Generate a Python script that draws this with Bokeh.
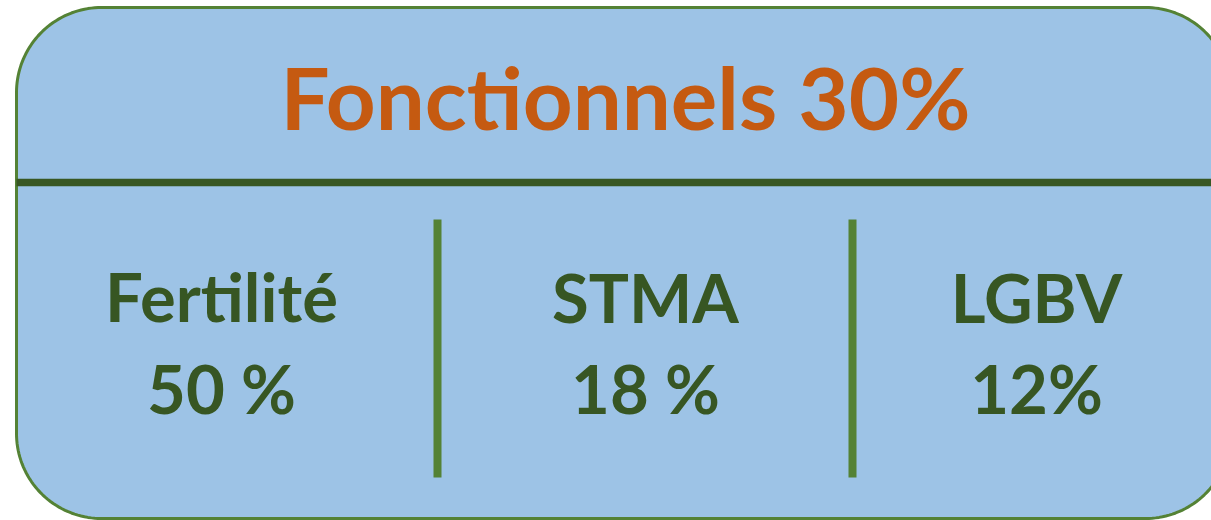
import numpy as np
from bokeh.plotting import figure
from bokeh.models import Range1d, ColumnDataSource
from bokeh.core.properties import value
from bokeh.embed import file_html
from bokeh.resources import INLINE

# ---- data ----
title_label = "Fonctionnels"
title_share = 30
categories = ["Fertilité", "STMA", "LGBV"]
shares = [50, 18, 12]
share_labels = ["50 %", "18 %", "12%"]

# ---- layout (pixel coordinates) ----
W, H = 1211, 520
p = figure(width=W, height=H, output_backend="svg", toolbar_location=None,
           x_range=Range1d(0, W), y_range=Range1d(H, 0),
           min_border=0)
p.axis.visible = False
p.grid.visible = False
p.outline_line_color = None
p.background_fill_color = "white"
p.border_fill_color = "white"

# rounded box
left, top, right, bottom, r = 16, 7, 1230, 518, 85
def arc(cx, cy, a0, a1, n=40):
    t = np.linspace(np.radians(a0), np.radians(a1), n)
    return cx + r * np.cos(t), cy + r * np.sin(t)
xs, ys = [], []
for cx, cy, a0, a1 in [(left + r, top + r, 180, 270), (right - r, top + r, 270, 360),
                       (right - r, bottom - r, 0, 90), (left + r, bottom - r, 90, 180)]:
    ax, ay = arc(cx, cy, a0, a1)
    xs.extend(ax); ys.extend(ay)
p.patch(xs, ys, fill_color="#9DC3E6", line_color="#548235", line_width=3)

# header separator
p.segment(x0=[left], y0=[182], x1=[right], y1=[182], line_color="#385723", line_width=7.5)

# column separators
p.segment(x0=[437, 852], y0=[219, 219], x1=[437, 852], y1=[477, 477],
          line_color="#548235", line_width=8)

FONT = value("Lato")
p.text(x=[625], y=[96], text=[f"{title_label} {title_share}%"],
       text_font=FONT, text_font_style="bold", text_font_size="87px",
       text_color="#C55A11", text_align="center", text_baseline="alphabetic")

centers = [221, 645, 1036]
src = ColumnDataSource(dict(x=centers, cat=categories, lab=share_labels,
                            y1=[295, 296, 296], y2=[387, 387, 387]))
p.text(x="x", y="y1", text="cat", source=src, text_font=FONT, text_font_style="bold",
       text_font_size="67px", text_color="#375623", text_align="center",
       text_baseline="alphabetic")
p.text(x="x", y="y2", text="lab", source=src, text_font=FONT, text_font_style="bold",
       text_font_size="67px", text_color="#375623", text_align="center",
       text_baseline="alphabetic")

open("out.html", "w").write(file_html(p, INLINE))
